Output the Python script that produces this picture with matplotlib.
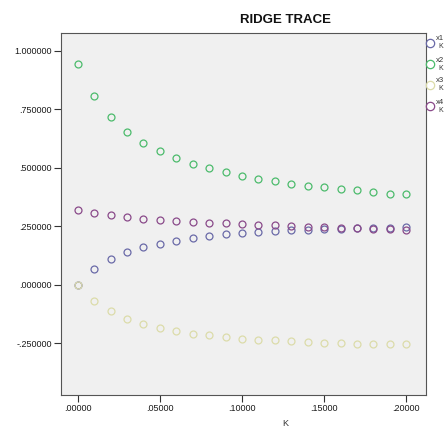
import matplotlib
matplotlib.use("Agg")
import matplotlib.pyplot as plt
from matplotlib.ticker import FuncFormatter
from matplotlib.lines import Line2D

plt.rcParams['font.family'] = ['Liberation Sans', 'DejaVu Sans']

k = [0.00, 0.01, 0.02, 0.03, 0.04, 0.05, 0.06, 0.07, 0.08, 0.09, 0.10,
     0.11, 0.12, 0.13, 0.14, 0.15, 0.16, 0.17, 0.18, 0.19, 0.20]
x1 = [0.000, 0.068, 0.108, 0.138, 0.159, 0.175, 0.187, 0.199, 0.207, 0.214, 0.221,
      0.225, 0.230, 0.232, 0.235, 0.238, 0.239, 0.241, 0.241, 0.242, 0.244]
x2 = [0.942, 0.805, 0.714, 0.650, 0.604, 0.570, 0.540, 0.517, 0.496, 0.479, 0.465,
      0.452, 0.441, 0.431, 0.423, 0.415, 0.408, 0.402, 0.395, 0.389, 0.385]
x3 = [0.000, -0.069, -0.114, -0.146, -0.170, -0.185, -0.200, -0.210, -0.217, -0.225, -0.231,
      -0.235, -0.238, -0.242, -0.245, -0.248, -0.250, -0.252, -0.253, -0.255, -0.256]
x4 = [0.320, 0.306, 0.296, 0.287, 0.282, 0.277, 0.272, 0.268, 0.265, 0.262, 0.259,
      0.256, 0.254, 0.251, 0.248, 0.245, 0.243, 0.241, 0.239, 0.237, 0.235]
series_names = ["x1", "x2", "x3", "x4"]
colors = ["#6a6aa8", "#4cbb6c", "#dcdcaa", "#8a4a8a"]
xticks = [0.0, 0.05, 0.10, 0.15, 0.20]
yticks = [-0.25, 0.0, 0.25, 0.5, 0.75, 1.0]

W, H = 445, 430
fig = plt.figure(figsize=(W / 100, H / 100), dpi=100)
ax = fig.add_axes([61 / W, 1 - 395 / H, (426 - 61) / W, (395 - 33) / H])
ax.set_facecolor("#f0f0f0")

for name, ys, c in zip(series_names, [x1, x2, x3, x4], colors):
    ax.plot(k, ys, linestyle="none", marker="o", markersize=5,
            markerfacecolor="none", markeredgecolor=c, markeredgewidth=0.9)

ax.set_xlim(-0.0102, 0.212)
ax.set_ylim(-0.472, 1.075)
ax.set_xticks(xticks)
ax.set_yticks(yticks)


def xfmt(v, pos):
    s = "%.5f" % v
    return s.replace("0.", ".", 1)


def yfmt(v, pos):
    s = "%.6f" % v
    if s.startswith("-0."):
        return "-" + s[2:]
    if s.startswith("0."):
        return s[1:]
    return s


ax.xaxis.set_major_formatter(FuncFormatter(xfmt))
ax.yaxis.set_major_formatter(FuncFormatter(yfmt))
ax.tick_params(axis="both", direction="out", length=5, width=0.8,
               color="#333333", labelsize=6.5, labelcolor="#1a1a1a", pad=1.5)
for s in ax.spines.values():
    s.set_color("#555555")
    s.set_linewidth(0.8)

fig.text(286 / W, 1 - 20 / H, "RIDGE TRACE", ha="center", va="center",
         fontsize=9.5, fontweight="bold", color="#111111")
fig.text(285 / W, 1 - 423 / H, "K", ha="center", va="center",
         fontsize=6.5, color="#333333")

# legend at right edge (clipped by figure boundary as in the reference)
leg_y = [43, 64, 85, 106]
for name, c, yy in zip(series_names, colors, leg_y):
    fig.add_artist(Line2D([430 / W], [1 - yy / H], linestyle="none", marker="o",
                          markersize=6, markerfacecolor="none",
                          markeredgecolor=c, markeredgewidth=0.9,
                          transform=fig.transFigure))
    fig.text(436 / W, 1 - (yy - 4) / H, name, ha="left", va="center",
             fontsize=5.5, color="#333333")
    fig.text(438 / W, 1 - (yy + 4) / H, "K", ha="left", va="center",
             fontsize=5, color="#333333")

fig.savefig("out.png", dpi=100, facecolor="white")
